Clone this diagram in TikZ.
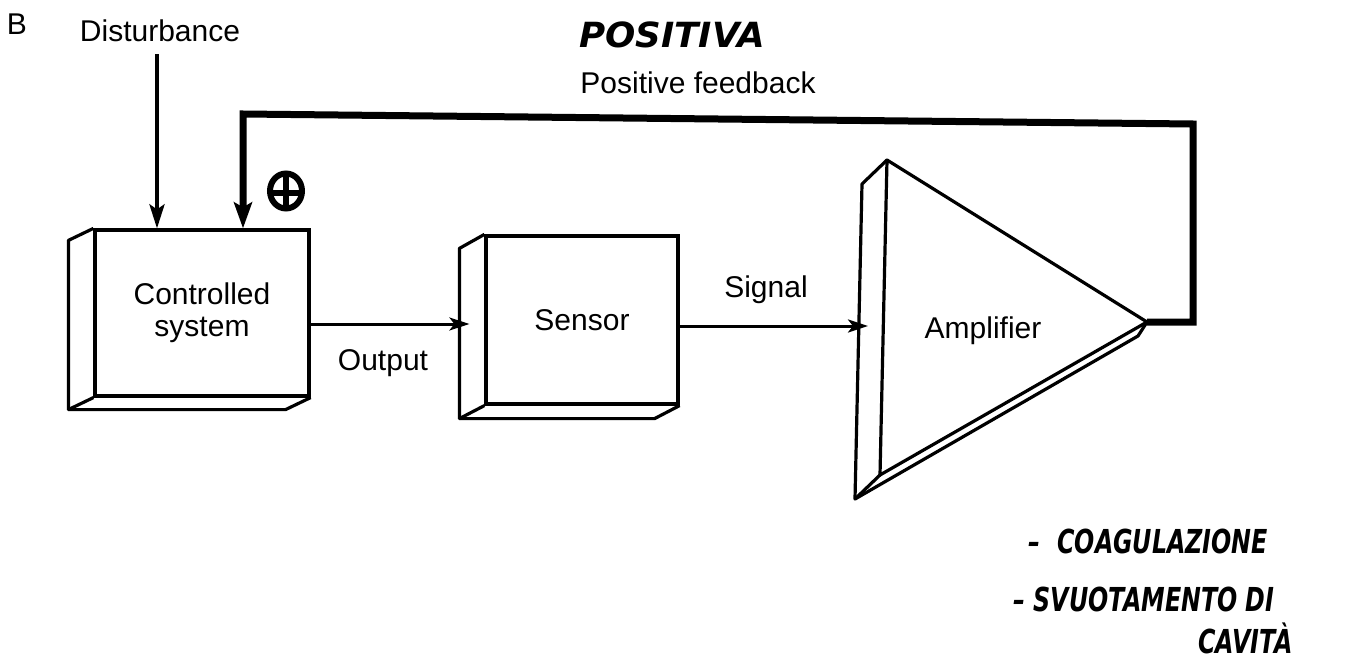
\documentclass[tikz,border=0pt]{standalone}
\usepackage{fontspec}
\setmainfont{Liberation Sans}
\newfontfamily\hand{DejaVu Sans}
\usetikzlibrary{arrows.meta,calc,shapes.geometric}
\tikzset{
  lbl/.style={font=\fontsize{30}{33}\selectfont, inner sep=0pt, anchor=base},
  blockbox/.style={draw, line width=3.2pt, inner sep=0pt, align=center,
    font=\fontsize{30}{32}\selectfont},
  edge3d/.style={line width=3.2pt, line join=round},
  sigarrow/.style={line width=3pt, -{Stealth[length=20pt,width=13pt,inset=5pt]}},
  distarrow/.style={line width=4pt, -{Stealth[length=24pt,width=15pt,inset=5pt]}},
  fbarrow/.style={line width=7pt, line join=miter, -{Stealth[length=26pt,width=18pt,inset=5pt]}},
  handtext/.style={font=\hand\bfseries\itshape\fontsize{33}{36}\selectfont, inner sep=0pt, anchor=base west}
}
\begin{document}
\begin{tikzpicture}[x=1pt,y=-1pt]
\useasboundingbox (0,0) rectangle (1368,663);

% labels at top
\node[lbl] (B) at (17,35) {B};
\node[lbl] (dist) at (160,42) {Disturbance};
\node[handtext, anchor=base] (pos) at (672,48) {\scalebox{1.08}[1.05]{POSITIVA}};
\node[lbl] (pf) at (698,94) {Positive feedback};

% controlled system box
\node[blockbox, minimum width=214pt, minimum height=166pt] (cs) at (202,313)
  {Controlled\\system};
\draw[edge3d] (cs.north west) -- ++(-25,12) coordinate (csA)
  -- ($(cs.south west)+(-25,12)$) coordinate (csB)
  -- ($(cs.south east)+(-25,12)$) -- (cs.south east);
\draw[edge3d] (cs.south west) -- (csB);

% sensor box
\node[blockbox, minimum width=192pt, minimum height=168pt] (sen) at (582,320)
  {Sensor};
\draw[edge3d] (sen.north west) -- ++(-25,14) coordinate (senA)
  -- ($(sen.south west)+(-25,13)$) coordinate (senB)
  -- ($(sen.south east)+(-25,13)$) -- (sen.south east);
\draw[edge3d] (sen.south west) -- (senB);

% amplifier
\coordinate (at) at (887,160);
\coordinate (ab) at (880,475);
\coordinate (tip) at (1147,322);
\draw[edge3d] (at) -- (tip) -- (ab) -- cycle;
\draw[edge3d] (at) -- (862,184) -- (855,499) -- (1138,336) -- (tip);
\draw[edge3d] (ab) -- (855,499);
\node[lbl] (amp) at (983,338) {Amplifier};

% connectors
\coordinate (senin) at ($(sen.west)+(-15,4)$);
\draw[sigarrow] (cs.east |- senin) -- (senin);
\node[lbl] (out) at (383,370) {Output};

\coordinate (ampin) at (868,326);
\draw[sigarrow] (sen.east |- ampin) -- (ampin);
\node[lbl] (sig) at (766,297) {Signal};

\coordinate (dtop) at ($(dist.south)+(-3,12)$);
\draw[distarrow] (dtop) -- (dtop |- cs.north);

\coordinate (fbR) at (1193,322);
\coordinate (fbRT) at (1193,124);
\coordinate (fbLT) at (243,114);
\draw[fbarrow] (tip) -- (fbR) -- (fbRT) -- (fbLT) -- (fbLT |- cs.north);

% plus sign
\node[ellipse, draw, line width=6pt, minimum width=32pt, minimum height=35pt, inner sep=0pt,
  path picture={\draw[line width=6pt]
    (path picture bounding box.north) -- (path picture bounding box.south)
    ($(path picture bounding box.west)+(0,2)$) -- ($(path picture bounding box.east)+(0,2)$);}]
  (plus) at (286,191) {};

% handwritten notes
\node[handtext] (n1) at (1028,553) {\scalebox{0.72}[1]{–\hspace{24pt}COAGULAZIONE}};
\node[handtext] (n2) at (1013,611) {\scalebox{0.72}[1]{–\hspace{12pt}SVUOTAMENTO DI}};
\node[handtext] (n3) at (1198,653) {\scalebox{0.72}[1]{CAVITÀ}};
\end{tikzpicture}
\end{document}
